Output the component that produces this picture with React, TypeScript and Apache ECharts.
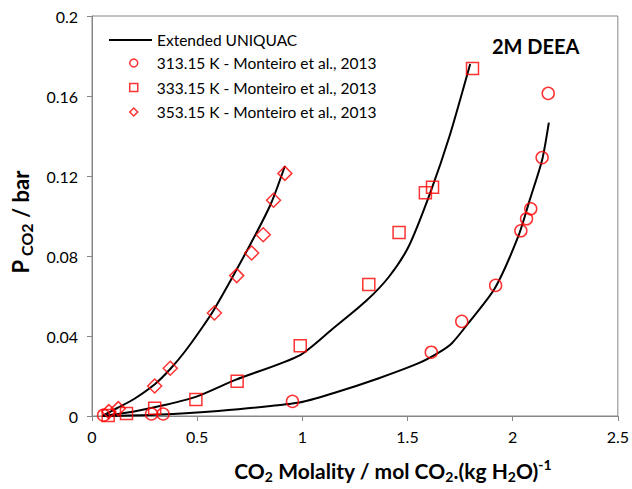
import React, { useEffect, useRef } from 'react';
import * as echarts from 'echarts';

// Experimental data (Monteiro et al., 2013): [CO2 molality, P_CO2 bar]
const exp313: [number, number][] = [
  [0.055, 0.0004], [0.283, 0.001], [0.338, 0.001], [0.953, 0.0073], [1.613, 0.0319],
  [1.758, 0.0473], [1.919, 0.0653], [2.039, 0.0926], [2.066, 0.0986], [2.086, 0.1036],
  [2.14, 0.1292], [2.169, 0.1613],
];
const exp333: [number, number][] = [
  [0.077, 0.0003], [0.164, 0.0013], [0.298, 0.0039], [0.494, 0.0082], [0.69, 0.0174],
  [0.99, 0.0351], [1.316, 0.0657], [1.46, 0.0918], [1.585, 0.1116], [1.619, 0.1144],
  [1.809, 0.1738],
];
const exp353: [number, number][] = [
  [0.08, 0.0022], [0.125, 0.0037], [0.298, 0.015], [0.372, 0.0239], [0.582, 0.0515],
  [0.688, 0.0702], [0.759, 0.0815], [0.814, 0.0906], [0.863, 0.1079], [0.917, 0.1213],
];

// Extended UNIQUAC model curves
const model313: [number, number][] = [
  [0.05, 0], [0.3, 0.0006], [0.6, 0.0025], [0.985, 0.0067], [1.15, 0.0115], [1.364, 0.0189],
  [1.553, 0.0264], [1.65, 0.0318], [1.711, 0.0364], [1.79, 0.0465], [1.916, 0.064],
  [2.027, 0.0899], [2.082, 0.1083], [2.14, 0.128], [2.172, 0.1467],
];
const model333: [number, number][] = [
  [0.05, 0], [0.2, 0.0023], [0.35, 0.0056], [0.5, 0.0098], [0.685, 0.0182], [0.985, 0.0302],
  [1.143, 0.0435], [1.3, 0.0572], [1.411, 0.0695], [1.506, 0.0849], [1.608, 0.1116],
  [1.7, 0.14], [1.798, 0.176],
];
const model353: [number, number][] = [
  [0.05, 0], [0.12, 0.004], [0.2, 0.0085], [0.3, 0.016], [0.372, 0.0235], [0.44, 0.032],
  [0.519, 0.0435], [0.582, 0.0535], [0.748, 0.0849], [0.85, 0.106], [0.917, 0.125],
];

const seriesNames = [
  '313.15 K - Monteiro et al., 2013',
  '333.15 K - Monteiro et al., 2013',
  '353.15 K - Monteiro et al., 2013',
];
const modelName = 'Extended UNIQUAC';

export default function App() {
  const ref = useRef<HTMLDivElement>(null);
  useEffect(() => {
    const chart = echarts.init(ref.current!, null, { renderer: 'svg' });
    const F = 'Lato';
    const gray = '#868686';
    const red = '#FF0000';
    const line = (data: [number, number][]) => ({
      name: modelName,
      type: 'line',
      data,
      symbol: 'none',
      smooth: 0.25,
      lineStyle: { color: '#000', width: 2 },
      itemStyle: { color: '#000' },
      z: 2,
    });
    const scatter = (name: string, data: [number, number][], symbol: string, size: number) => ({
      name,
      type: 'scatter',
      data,
      symbol,
      symbolSize: size,
      itemStyle: { color: 'rgba(255,255,255,0)', borderColor: red, borderWidth: 1.5 },
      z: 3,
    });
    const b = { fontFamily: F, fontWeight: 'bold', fontSize: 21, lineHeight: 26, color: '#000' };
    const s = { fontFamily: F, fontWeight: 'bold', fontSize: 14, lineHeight: 14, verticalAlign: 'bottom', color: '#000' };
    const p = { fontFamily: F, fontWeight: 'bold', fontSize: 14, lineHeight: 14, verticalAlign: 'top', color: '#000' };
    const yb = { ...b, fontSize: 22, lineHeight: 28 };
    const ys = { ...s, fontSize: 16, lineHeight: 16 };
    chart.setOption({
      animation: false,
      backgroundColor: '#fff',
      title: {
        text: '2M DEEA',
        left: 492,
        top: 36,
        padding: 0,
        textStyle: { fontFamily: F, fontWeight: 'bold', fontSize: 20, color: '#000' },
      },
      grid: {
        left: 92, right: 13, top: 16, bottom: 73,
        show: true, borderColor: gray, borderWidth: 1, backgroundColor: 'transparent',
      },
      legend: [
        {
          data: [modelName],
          icon: 'rect',
          left: 109,
          top: 32,
          padding: 0,
          itemWidth: 43,
          itemHeight: 2,
          selectedMode: false,
          itemStyle: { color: '#000', borderWidth: 0 },
          textStyle: { fontFamily: F, fontSize: 15.5, lineHeight: 16, color: '#000' },
        },
        {
          data: seriesNames,
          orient: 'vertical',
          left: 129,
          top: 55,
          padding: 0,
          itemWidth: 8,
          itemHeight: 8,
          itemGap: 8.5,
          selectedMode: false,
          itemStyle: { borderWidth: 1.5 },
          textStyle: { fontFamily: F, fontSize: 15.5, lineHeight: 16, color: '#000', padding: [0, 0, 0, 14] },
        },
      ],
      xAxis: {
        type: 'value',
        min: 0,
        max: 2.5,
        interval: 0.5,
        name: '{b|CO}{s|2}{b| Molality / mol CO}{s|2}{b|.(kg H}{s|2}{b|O)}{p|-1}',
        nameLocation: 'middle',
        nameGap: 41,
        nameTextStyle: { rich: { b, s, p }, padding: [0, 0, 0, 76] },
        axisLine: { lineStyle: { color: gray, width: 1 } },
        axisTick: { show: true, length: 5, lineStyle: { color: gray } },
        axisLabel: { fontFamily: F, fontSize: 16, color: '#000', margin: 12 },
        splitLine: { show: false },
      },
      yAxis: {
        type: 'value',
        min: 0,
        max: 0.2,
        interval: 0.04,
        name: '{b|P}{s| CO2}{b| / bar}',
        nameLocation: 'middle',
        nameGap: 58,
        nameTextStyle: { rich: { b: yb, s: ys }, padding: [0, 12, 0, 0] },
        axisLine: { show: true, lineStyle: { color: gray, width: 1 } },
        axisTick: { show: true, length: 5, lineStyle: { color: gray } },
        axisLabel: { fontFamily: F, fontSize: 16, color: '#000', margin: 14 },
        splitLine: { show: false },
      },
      series: [
        line(model313),
        line(model333),
        line(model353),
        scatter(seriesNames[0], exp313, 'circle', 12),
        scatter(seriesNames[1], exp333, 'rect', 12),
        scatter(seriesNames[2], exp353, 'diamond', 14),
      ],
    });
    return () => chart.dispose();
  }, []);
  return <div ref={ref} style={{ position: 'absolute', left: 0, top: 0, width: 632, height: 489 }} />;
}
